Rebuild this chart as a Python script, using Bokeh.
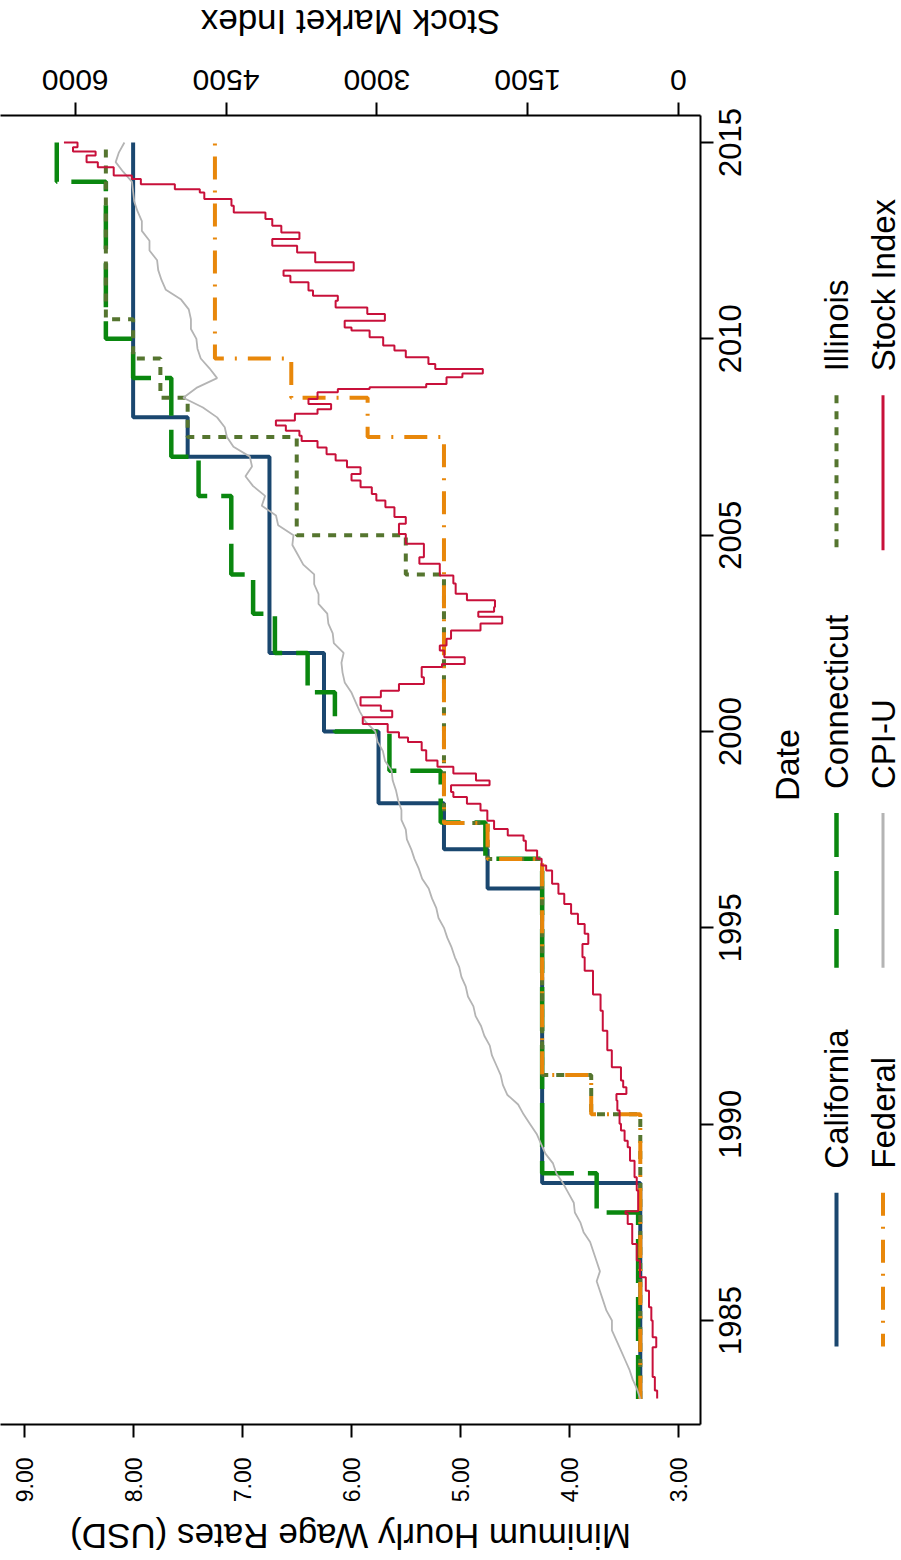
import math
from bokeh.plotting import figure
from bokeh.models import Range1d, FixedTicker, NumeralTickFormatter, LinearAxis
from bokeh.layouts import row, column
from bokeh.embed import file_html
from bokeh.resources import INLINE
from bokeh.core.properties import value

FONT = "Liberation Sans"

# ---------------- data ----------------
ca_dates = [1983.0, 1988.5, 1996.0, 1997.0, 1998.17, 2000.0, 2002.0, 2007.0, 2008.0, 2015.0]
ca_wage = [3.35, 4.25, 4.75, 5.15, 5.75, 6.25, 6.75, 7.50, 8.00, 8.00]

ct_dates = [1983.0, 1987.75, 1988.75, 1996.76, 1997.68, 1999.0, 2000.0, 2001.0, 2002.0,
            2003.0, 2004.0, 2006.0, 2007.0, 2009.0, 2010.0, 2014.0, 2015.0]
ct_wage = [3.37, 3.75, 4.25, 4.77, 5.18, 5.65, 6.15, 6.40, 6.70,
           6.90, 7.10, 7.40, 7.65, 8.00, 8.25, 8.70, 8.70]

il_dates = [1983.0, 1990.25, 1991.25, 1996.75, 1997.67, 2004.0, 2005.0, 2007.5, 2008.5,
            2009.5, 2010.5, 2015.0]
il_wage = [3.35, 3.80, 4.25, 4.75, 5.15, 5.50, 6.50, 7.50, 7.75, 8.00, 8.25, 8.25]

fed_dates = [1983.0, 1990.25, 1991.25, 1996.75, 1997.67, 2007.5, 2008.5, 2009.5, 2015.0]
fed_wage = [3.35, 3.80, 4.25, 4.75, 5.15, 5.85, 6.55, 7.25, 7.25]

cpi_start = 1983.0
cpi_wage = [3.35, 3.38, 3.42, 3.45, 3.49, 3.53, 3.57, 3.61, 3.61, 3.66, 3.69, 3.72,
            3.75, 3.72, 3.75, 3.78, 3.81, 3.87, 3.90, 3.95, 3.96, 4.01, 4.06, 4.12,
            4.15, 4.22, 4.26, 4.30, 4.36, 4.42, 4.47, 4.57, 4.61, 4.63, 4.67, 4.71,
            4.73, 4.78, 4.81, 4.86, 4.88, 4.93, 4.95, 4.99, 5.01, 5.05, 5.08, 5.12,
            5.15, 5.20, 5.22, 5.26, 5.29, 5.35, 5.38, 5.42, 5.45, 5.49, 5.50, 5.54,
            5.54, 5.57, 5.59, 5.62, 5.63, 5.69, 5.71, 5.76, 5.78, 5.87, 5.92, 5.96,
            6.00, 6.06, 6.08, 6.09, 6.07, 6.16, 6.17, 6.21, 6.22, 6.30, 6.30, 6.34,
            6.34, 6.44, 6.49, 6.54, 6.53, 6.67, 6.69, 6.82, 6.79, 6.90, 6.97, 6.91,
            6.93, 7.08, 7.14, 7.16, 7.23, 7.36, 7.54, 7.42, 7.23, 7.30, 7.38, 7.41,
            7.42, 7.47, 7.47, 7.49, 7.56, 7.70, 7.74, 7.77, 7.78, 7.85, 7.85, 7.92,
            7.92, 7.96, 7.99, 8.00, 8.01, 8.09, 8.16, 8.13, 8.08]
cpi_dates = [cpi_start + i / 4 for i in range(len(cpi_wage))]

stock_dates = [1983.01, 1983.22, 1983.56, 1984.32, 1984.57, 1985.0, 1985.34, 1985.76, 1986.1,
               1986.53, 1986.95, 1987.46, 1987.72, 1987.78, 1988.31, 1988.65, 1989.07, 1989.41,
               1989.58, 1989.84, 1990.01, 1990.35, 1990.6, 1990.77, 1990.94, 1991.11, 1991.45,
               1991.88, 1992.38, 1992.89, 1993.3, 1993.91, 1994.25, 1994.59, 1994.85, 1995.1,
               1995.36, 1995.61, 1995.87, 1996.12, 1996.46, 1996.59, 1996.76, 1996.97, 1997.22,
               1997.35, 1997.52, 1997.73, 1997.99, 1998.16, 1998.33, 1998.46, 1998.63, 1998.75,
               1998.93, 1999.1, 1999.26, 1999.52, 1999.73, 1999.85, 1999.98, 2000.19, 2000.36,
               2000.53, 2000.66, 2000.87, 2001.04, 2001.21, 2001.38, 2001.64, 2001.72, 2001.89,
               2002.06, 2002.19, 2002.36, 2002.57, 2002.75, 2002.92, 2003.05, 2003.17, 2003.34,
               2003.51, 2003.77, 2003.97, 2004.27, 2004.44, 2004.61, 2004.78, 2005.03, 2005.29,
               2005.46, 2005.71, 2005.88, 2006.05, 2006.22, 2006.39, 2006.56, 2006.73, 2006.9,
               2007.06, 2007.23, 2007.4, 2007.53, 2007.66, 2007.79, 2007.92, 2008.09, 2008.21,
               2008.34, 2008.47, 2008.64, 2008.72, 2008.77, 2008.85, 2009.02, 2009.12, 2009.23,
               2009.36, 2009.53, 2009.7, 2009.83, 2010.04, 2010.21, 2010.29, 2010.46, 2010.63,
               2010.8, 2010.97, 2011.1, 2011.23, 2011.44, 2011.61, 2011.74, 2011.95, 2012.2,
               2012.37, 2012.54, 2012.71, 2012.88, 2013.05, 2013.22, 2013.39, 2013.56, 2013.73,
               2013.81, 2013.94, 2014.07, 2014.16, 2014.29, 2014.37, 2014.5, 2014.67, 2014.77,
               2014.88, 2015.0]
stock_index = [212, 235, 257, 221, 257, 270, 293, 325, 383,
               415, 460, 505, 527, 401, 415, 437, 482, 505,
               536, 572, 586, 608, 617, 518, 550, 572, 663,
               708, 753, 775, 850, 933, 955, 897, 933, 1000,
               1068, 1136, 1194, 1257, 1316, 1361, 1406, 1518, 1541,
               1698, 1834, 1901, 1969, 2104, 2239, 2262, 1879, 2014,
               2239, 2397, 2509, 2554, 2690, 2780, 2892, 3140, 2847,
               2960, 3162, 2960, 2780, 2532, 2554, 2352, 2126, 2329,
               2374, 2307, 2262, 1969, 1753, 1991, 1834, 1825, 2104,
               2216, 2239, 2374, 2577, 2532, 2532, 2712, 2780, 2712,
               2825, 2915, 3005, 3050, 3162, 3252, 3162, 3297, 3410,
               3500, 3590, 3748, 3770, 3905, 4004, 3815, 3590, 3455,
               3680, 3590, 3388, 3072, 2509, 2307, 2149, 1946, 2419,
               2487, 2712, 2825, 2937, 3072, 3252, 3320, 2920, 3095,
               3410, 3388, 3635, 3680, 3860, 3928, 3230, 3613, 3793,
               4040, 3770, 3950, 4040, 4108, 4423, 4446, 4716, 4761,
               5009, 5347, 5437, 5617, 5617, 5775, 5887, 5797, 6022,
               5977, 6112]

wage_ticks = [3, 4, 5, 6, 7, 8, 9]
stock_ticks = [0, 1500, 3000, 4500, 6000]
year_ticks = [1985, 1990, 1995, 2000, 2005, 2010, 2015]

series_labels = ["California", "Connecticut", "Illinois", "Federal", "CPI-U", "Stock Index"]
series_colors = ["#1a476f", "#0a870f", "#55752f", "#e8870a", "#b4b4b4", "#c8103a"]
series_dash = ["solid", "44 14", "8 8", "23 11 2 11", "solid", "solid"]
series_width = [4, 4.5, 4, 4, 1.8, 2]

title_wage = "Minimum Hourly Wage Rates (USD)"
title_stock = "Stock Market Index"
title_date = "Date"

# ---------------- layout constants (page pixels) ----------------
FRAME_L, FRAME_T, FRAME_W, FRAME_H = 0, 115, 700, 1309
FRAME_R = FRAME_L + FRAME_W
FRAME_B = FRAME_T + FRAME_H
TOP_STRIP = 43
BOT_STRIP_Y = 1504
PAGE_H = 1556
MAIN_R_BORDER = 65
LEG_X0 = FRAME_R + MAIN_R_BORDER
LEG_X1 = 901
PX_PER_YEAR = 39.267
PX_PER_STOCK = 0.10055


def bare(width, height, xr, yr, **kw):
    f = figure(width=width, height=height, x_range=xr, y_range=yr,
               x_axis_location=None, y_axis_location=None, output_backend="svg",
               toolbar_location=None, **kw)
    f.grid.visible = False
    f.outline_line_color = None
    return f


# ---------------- main figure ----------------
p = figure(frame_width=FRAME_W, frame_height=FRAME_H,
           x_range=Range1d(9.216, 2.798), y_range=Range1d(1982.351, 2015.688),
           x_axis_location="below", y_axis_location="right",
           output_backend="svg", toolbar_location=None,
           min_border_left=FRAME_L, min_border_right=MAIN_R_BORDER,
           min_border_top=FRAME_T - TOP_STRIP, min_border_bottom=BOT_STRIP_Y - FRAME_B)
p.extra_x_ranges = {"stock": Range1d(6743, -219)}
p.grid.visible = False
p.outline_line_color = None


def style_axis(ax, lbl_size, standoff, angle, label_centre_shift=False):
    ax.axis_line_width = 2
    ax.axis_line_color = "black"
    ax.major_label_text_font = FONT
    ax.major_label_text_font_size = lbl_size
    ax.major_label_text_color = "black"
    ax.major_label_orientation = angle
    ax.major_label_standoff = standoff
    if label_centre_shift:
        # real ticks drawn as "minor" ticks, labels placed on shifted major positions
        ax.major_tick_out = 0
        ax.major_tick_in = 0
        ax.major_tick_line_color = None
        ax.minor_tick_out = 13
        ax.minor_tick_in = 0
        ax.minor_tick_line_width = 2
        ax.minor_tick_line_color = "black"
    else:
        ax.major_tick_out = 13
        ax.major_tick_in = 0
        ax.major_tick_line_width = 2
        ax.major_tick_line_color = "black"
        ax.minor_tick_out = 0
        ax.minor_tick_in = 0


# bottom: wage axis
xa = p.xaxis[0]
xa.ticker = FixedTicker(ticks=wage_ticks)
xa.formatter = NumeralTickFormatter(format="0.00")
style_axis(xa, "23px", 20, math.pi / 2)

# right: date axis
yr_shift = 2 * 0.556 * 31 / PX_PER_YEAR
yr_pos = [y - yr_shift for y in year_ticks]
ya = p.yaxis[0]
ya.ticker = FixedTicker(ticks=yr_pos, minor_ticks=year_ticks)
ya.major_label_overrides = {pos: str(y) for pos, y in zip(yr_pos, year_ticks)}
style_axis(ya, "31px", 17, math.pi / 2, label_centre_shift=True)

# top: stock axis
st_pos = [s - len(str(s)) * 0.556 * 30 / 2 / PX_PER_STOCK for s in stock_ticks]
top = LinearAxis(x_range_name="stock", ticker=FixedTicker(ticks=st_pos, minor_ticks=stock_ticks),
                 major_label_overrides={pos: str(s) for pos, s in zip(st_pos, stock_ticks)})
style_axis(top, "30px", 23, math.pi, label_centre_shift=True)
p.add_layout(top, "above")

# series
series = [(ca_wage, ca_dates), (ct_wage, ct_dates), (il_wage, il_dates), (fed_wage, fed_dates)]
for i, (w, d) in enumerate(series):
    p.step(x=w, y=d, mode="before", line_color=series_colors[i], line_width=series_width[i],
           line_dash=series_dash[i])
p.line(x=cpi_wage, y=cpi_dates, line_color=series_colors[4], line_width=series_width[4])
p.step(x=stock_index, y=stock_dates, mode="before", x_range_name="stock",
       line_color=series_colors[5], line_width=series_width[5])

# ---------------- title strips (page coordinates) ----------------
top_strip = bare(FRAME_R, TOP_STRIP, Range1d(FRAME_L, FRAME_R), Range1d(TOP_STRIP, 0),
                 min_border_left=FRAME_L, min_border_right=0, min_border_top=0, min_border_bottom=0)
top_strip.text(x=[350], y=[22], text=[title_stock], angle=math.pi, text_align="center",
               text_baseline="middle", text_font=value(FONT), text_font_size="35px",
               text_color="black")

bot_strip = bare(FRAME_R, PAGE_H - BOT_STRIP_Y, Range1d(FRAME_L, FRAME_R),
                 Range1d(PAGE_H, BOT_STRIP_Y),
                 min_border_left=FRAME_L, min_border_right=0, min_border_top=0, min_border_bottom=0)
bot_strip.text(x=[350], y=[1535], text=[title_wage], angle=math.pi, text_align="center",
               text_baseline="middle", text_font=value(FONT), text_font_size="35px",
               text_color="black")

# ---------------- legend figure (page coordinates, frame aligned with main) ----------------
leg = bare(LEG_X1 - LEG_X0, BOT_STRIP_Y - TOP_STRIP, Range1d(LEG_X0, LEG_X1),
           Range1d(FRAME_B, FRAME_T), min_border=0)
leg.text(x=[786], y=[765], text=[title_date], angle=math.pi / 2, text_align="center",
         text_baseline="middle", text_font=value(FONT), text_font_size="34px", text_color="black")

col_x = [836, 882.5]
key_y = [(1193, 1347), (813, 968), (395, 550)]
for i, lab in enumerate(series_labels):
    r, c = divmod(i, 3)
    y0, y1 = key_y[c]
    leg.line(x=[col_x[r], col_x[r]], y=[y0, y1], line_color=series_colors[i],
             line_width=series_width[i] if i < 4 else 3, line_dash=series_dash[i])
    leg.text(x=[col_x[r]], y=[y0 - 24], text=[lab], angle=math.pi / 2,
             text_align="left", text_baseline="middle", text_font=value(FONT),
             text_font_size="33px", text_color="black")

layout = column(top_strip, row(p, leg), bot_strip)
open("out.html", "w").write(file_html(layout, INLINE))
